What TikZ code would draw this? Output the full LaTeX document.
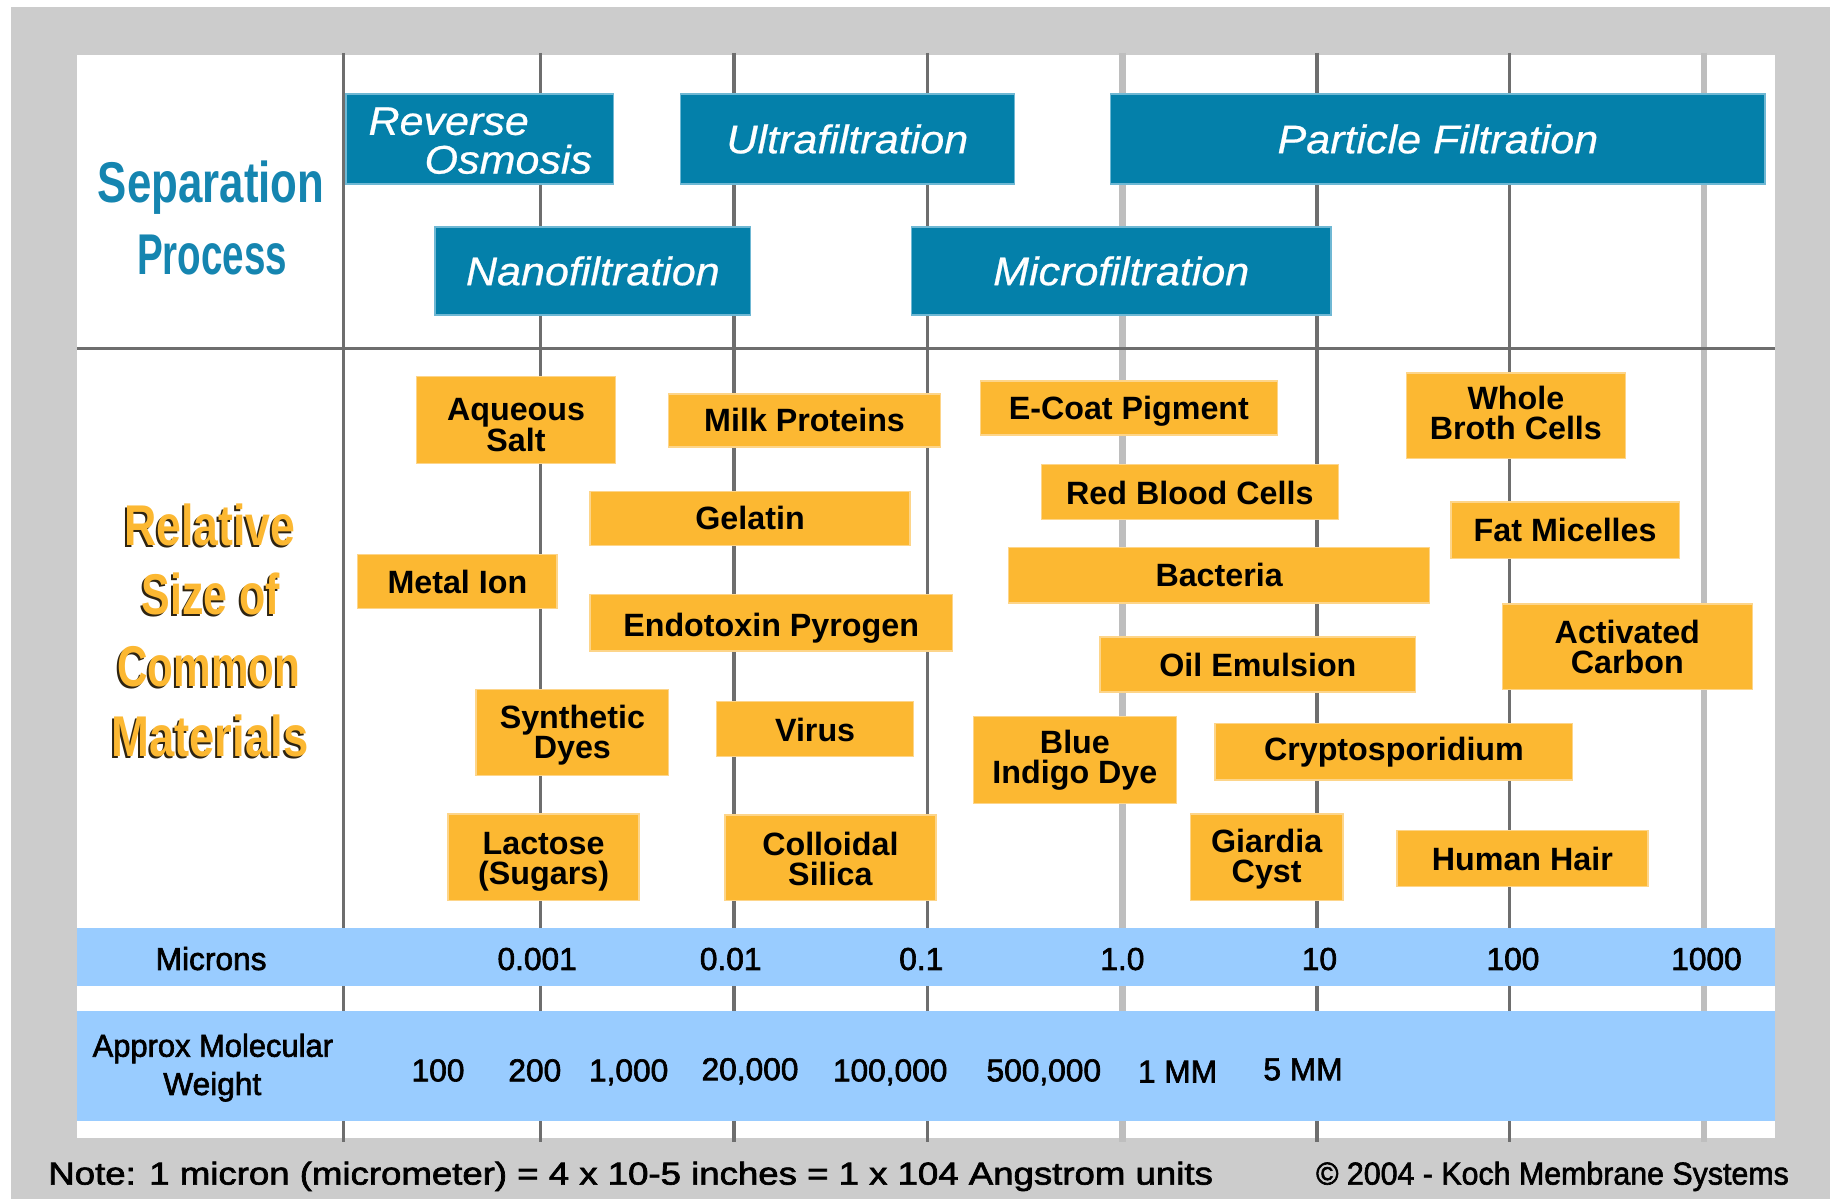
\documentclass[tikz,border=0pt]{standalone}
\usepackage{fontspec}
\usepackage{graphicx}
\setmainfont{Liberation Sans}
\newfontfamily\procfont[FakeStretch=1.08,FakeBold=0.6]{Liberation Sans}
\newfontfamily\bandfont[FakeBold=2]{Liberation Sans}
\definecolor{bggray}{HTML}{CCCCCC}
\definecolor{tealbox}{HTML}{0480AA}
\definecolor{tealedge}{HTML}{6FB8D4}
\definecolor{orng}{HTML}{FCB832}
\definecolor{orngedge}{HTML}{FDD58A}
\definecolor{bandblue}{HTML}{99CCFF}
\definecolor{griddark}{HTML}{6E6E6E}
\definecolor{gridlight}{HTML}{BEBEBE}
\definecolor{headteal}{HTML}{1585B0}
\definecolor{shadowbrown}{HTML}{2E2412}
\tikzset{
  pbox/.style={fill=tealbox, draw=tealedge, line width=1.2pt, inner sep=0pt, text=white,
    font=\procfont\itshape\fontsize{34}{34}\selectfont},
  ptxt/.style={inner sep=0pt, text=white, font=\procfont\itshape\fontsize{34}{34}\selectfont, anchor=base},
  obox/.style={fill=orng, draw=orngedge, line width=1.2pt, inner sep=0pt},
  otxt/.style={inner sep=0pt, align=center, font=\bfseries\fontsize{27.5}{25.5}\selectfont},
  gdark/.style={draw=griddark, line width=3pt},
  glight/.style={draw=gridlight, line width=5.5pt},
  band/.style={fill=bandblue, draw=none},
  bandtxt/.style={inner sep=0pt, anchor=base, font=\bandfont\fontsize{27}{32.5}\selectfont},
  headtxt/.style={inner sep=0pt, anchor=base, text=headteal, font=\bfseries\fontsize{49}{49}\selectfont},
  reltxt/.style={inner sep=0pt, anchor=base, text=orng, font=\bfseries\fontsize{49}{49}\selectfont},
  relshadow/.style={inner sep=0pt, anchor=base, text=shadowbrown, font=\bfseries\fontsize{49}{49}\selectfont},
  notetxt/.style={inner sep=0pt, anchor=base west, font=\bandfont\fontsize{27}{27}\selectfont},
}
\newcommand{\fitw}[2]{\resizebox{#1pt}{\height}{#2}}
% \obx{name}{cx}{cy}{w}{h}{text shift down}{text}
\newcommand{\obx}[7]{%
  \node[obox, minimum width=#4pt, minimum height=#5pt] (#1) at (#2,#3) {};
  \node[otxt] (#1-t) at ([yshift=-#6pt]#1.center) {#7};}
\begin{document}
\begin{tikzpicture}[x=1pt,y=-1pt]
\useasboundingbox (0,0) rectangle (1568,1022);
% backgrounds
\fill[white] (0,0) rectangle (1568,1022);
\fill[bggray] (9,6) rectangle (1560,1022);
\fill[white] (66,47) rectangle (1513,970);
% grid lines
\foreach \x in {293,461,626,791,1123,1287} \draw[gdark] (\x,45) -- (\x,974);
\foreach \x in {957,1453} \draw[glight] (\x,45) -- (\x,974);
\draw[gdark] (66,297) -- (1513,297);
% bands
\fill[band] (66,791) rectangle (1513,841);
\fill[band] (66,862) rectangle (1513,956);
% left headings
\node[headtxt] (sep) at (180,173) {\fitw{193}{Separation}};
\node[headtxt] (proc) at (181,234) {\fitw{128}{Process}};
\node[relshadow] (r1s) at (177.3,466.8) {\fitw{146}{Relative}};
\node[reltxt] (r1) at (179,465) {\fitw{146}{Relative}};
\node[relshadow] (r2s) at (178.3,525.8) {\fitw{118}{Size of}};
\node[reltxt] (r2) at (180,524) {\fitw{118}{Size of}};
\node[relshadow] (r3s) at (176.3,587.3) {\fitw{156}{Common}};
\node[reltxt] (r3) at (178,585.5) {\fitw{156}{Common}};
\node[relshadow] (r4s) at (177.3,646.8) {\fitw{168}{Materials}};
\node[reltxt] (r4) at (179,645) {\fitw{168}{Materials}};
% separation process boxes
\node[pbox, minimum width=228pt, minimum height=77pt] (ro) at (409,118.5) {};
\node[ptxt, anchor=base west] (rot1) at (314,115) {Reverse};
\node[ptxt, anchor=base east] (rot2) at (505,148) {Osmosis};
\node[pbox, minimum width=285pt, minimum height=77pt] (uf) at (722.5,118.5) {Ultrafiltration};
\node[pbox, minimum width=558pt, minimum height=77pt] (pf) at (1226,118.5) {Particle Filtration};
\node[pbox, minimum width=269pt, minimum height=75pt] (nf) at (505.5,231) {Nanofiltration};
\node[pbox, minimum width=358pt, minimum height=75pt] (mf) at (956,231) {Microfiltration};
% material boxes
\obx{aq}{440}{358}{170}{74}{4.5}{Aqueous\\Salt}
\obx{milk}{686}{358.5}{232}{45}{0}{Milk Proteins}
\obx{ecoat}{962.5}{348}{253}{46}{2.5}{E-Coat Pigment}
\obx{whole}{1292.5}{354.5}{187}{73}{-2.5}{Whole\\Broth Cells}
\obx{rbc}{1014.5}{419.5}{253}{47}{0.5}{Red Blood Cells}
\obx{gel}{639.5}{442}{273}{46}{0}{Gelatin}
\obx{fat}{1334.5}{452}{195}{48}{0}{Fat Micelles}
\obx{metal}{390}{496}{170}{46}{0}{Metal Ion}
\obx{bact}{1039.5}{490.5}{359}{47}{0}{Bacteria}
\obx{endo}{657.5}{531}{309}{48}{5}{Endotoxin Pyrogen}
\obx{act}{1387.5}{551.5}{213}{73}{0.5}{Activated\\Carbon}
\obx{oil}{1072.5}{566.5}{269}{47}{0.5}{Oil Emulsion}
\obx{syn}{488}{624.5}{164}{73}{2.5}{Synthetic\\Dyes}
\obx{virus}{695}{621.5}{168}{47}{1}{Virus}
\obx{blue}{916.5}{648}{173}{74}{0.5}{Blue\\Indigo Dye}
\obx{crypto}{1188.5}{641}{305}{48}{0.5}{Cryptosporidium}
\obx{lact}{463.5}{731}{163}{74}{3.5}{Lactose\\(Sugars)}
\obx{coll}{708}{731.5}{180}{73}{0.5}{Colloidal\\Silica}
\obx{giar}{1080}{731}{130}{74}{1.5}{Giardia\\Cyst}
\obx{hair}{1298}{732}{214}{48}{0}{Human Hair}
% microns band
\node[bandtxt] (mic) at (180,827) {Microns};
\node[bandtxt] (m1) at (458,827) {0.001};
\node[bandtxt] (m2) at (623,827) {0.01};
\node[bandtxt] (m3) at (785.5,827) {0.1};
\node[bandtxt] (m4) at (957,827) {1.0};
\node[bandtxt] (m5) at (1125,827) {10};
\node[bandtxt] (m6) at (1290,827) {100};
\node[bandtxt] (m7) at (1455,827) {1000};
% molecular weight band
\node[bandtxt] (mw1) at (181.5,901) {\fitw{205}{Approx Molecular}};
\node[bandtxt] (mw2) at (181,933.6) {Weight};
\node[bandtxt] (w1) at (373.5,922) {100};
\node[bandtxt] (w2) at (456,922) {200};
\node[bandtxt] (w3) at (536,922) {1,000};
\node[bandtxt] (w4) at (639.5,921) {20,000};
\node[bandtxt] (w5) at (759,922) {100,000};
\node[bandtxt] (w6) at (890,922) {500,000};
\node[bandtxt] (w7) at (1004,923) {1 MM};
\node[bandtxt] (w8) at (1111,921) {5 MM};
% footer
\node[notetxt] (note) at (41,1010) {\fitw{993}{Note: 1 micron (micrometer) = 4 x 10-5 inches = 1 x 104 Angstrom units}};
\node[notetxt] (copy) at (1122,1010) {\fitw{403}{© 2004 - Koch Membrane Systems}};
\end{tikzpicture}
\end{document}
